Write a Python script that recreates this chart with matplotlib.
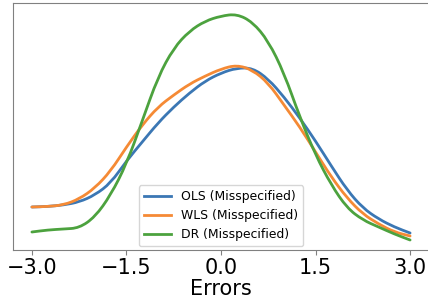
import matplotlib
matplotlib.use("Agg")
import matplotlib.pyplot as plt
from matplotlib.path import Path
from matplotlib.patches import PathPatch
from matplotlib.lines import Line2D

errors = [-3.0, -2.75, -2.5, -2.25, -2.0, -1.75, -1.5, -1.25, -1.0, -0.75, -0.5, -0.25,
          0.0, 0.25, 0.5, 0.75, 1.0, 1.25, 1.5, 1.75, 2.0, 2.25, 2.5, 2.75, 3.0]
ols_density = [0.086, 0.087, 0.090, 0.096, 0.110, 0.134, 0.178, 0.216, 0.254, 0.286, 0.314, 0.338,
               0.354, 0.364, 0.364, 0.342, 0.306, 0.264, 0.218, 0.168, 0.120, 0.084, 0.062, 0.046, 0.034]
wls_density = [0.086, 0.087, 0.090, 0.102, 0.124, 0.158, 0.206, 0.250, 0.286, 0.310, 0.332, 0.348,
               0.362, 0.370, 0.360, 0.334, 0.290, 0.246, 0.196, 0.146, 0.104, 0.072, 0.052, 0.036, 0.028]
dr_density = [0.036, 0.040, 0.042, 0.044, 0.066, 0.110, 0.172, 0.258, 0.346, 0.404, 0.438, 0.458,
              0.468, 0.472, 0.456, 0.418, 0.354, 0.266, 0.190, 0.130, 0.084, 0.060, 0.046, 0.032, 0.020]
labels = ["OLS (Misspecified)", "WLS (Misspecified)", "DR (Misspecified)"]
xticks = [-3.0, -1.5, 0.0, 1.5, 3.0]


def smooth_path(xs, ys):
    """Quadratic Bezier path: data points act as control points, midpoints lie on curve."""
    pts = list(zip(xs, ys))
    verts = [pts[0]]
    codes = [Path.MOVETO]
    mids = [((pts[i][0] + pts[i + 1][0]) / 2, (pts[i][1] + pts[i + 1][1]) / 2)
            for i in range(len(pts) - 1)]
    verts.append(mids[0])
    codes.append(Path.LINETO)
    for i in range(1, len(pts) - 1):
        verts += [pts[i], mids[i]]
        codes += [Path.CURVE3, Path.CURVE3]
    verts.append(pts[-1])
    codes.append(Path.LINETO)
    return Path(verts, codes)


fig = plt.figure(figsize=(4.28, 3.07), dpi=100)
ax = fig.add_axes([13 / 428, 57 / 307, 416 / 428, 247 / 307])

colors = ["#3b77b4", "#f58a35", "#4ca23e"]
handles = []
for ys, lab, c in zip([ols_density, wls_density, dr_density], labels, colors):
    patch = PathPatch(smooth_path(errors, ys), transform=ax.transData, facecolor="none",
                      edgecolor=c, lw=2.0, capstyle="round", joinstyle="round")
    ax.add_patch(patch)
    handles.append(Line2D([], [], color=c, lw=2.0, label=lab))

ax.set_xlim(-3.3, 3.3)
ax.set_ylim(0, 0.494)
ax.set_yticks([])
ax.set_xticks(xticks)
ax.set_xticklabels([f"{t:.1f}".replace("-", "\u2212") for t in xticks], fontsize=15)
ax.set_xlabel("Errors", fontsize=15, labelpad=1)
for s in ax.spines.values():
    s.set_color("#808080")
ax.tick_params(axis="x", colors="black", length=3.5, color="#808080", pad=2)

ax.legend(handles=handles, loc="lower center", bbox_to_anchor=(0.5, 0.0), fontsize=8.9,
          handlelength=2.2, borderaxespad=0.3)

fig.savefig("out.png", dpi=100)
